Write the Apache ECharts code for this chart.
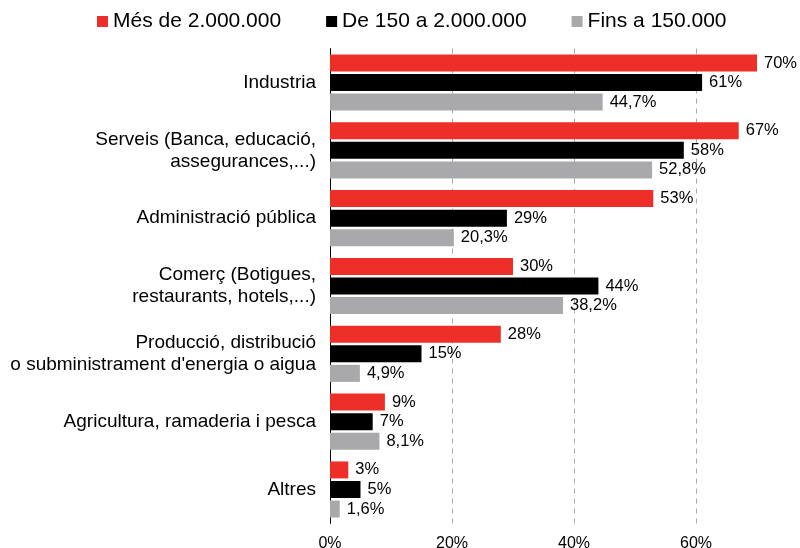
<!DOCTYPE html>
<html>
<head>
<meta charset="utf-8">
<title>Sectors</title>
<script src="https://cdn.jsdelivr.net/npm/echarts@6/dist/echarts.min.js"></script>
<style>
  html, body { margin: 0; padding: 0; background: #ffffff; }
  #chart { width: 800px; height: 548px; }
</style>
</head>
<body>
<div id="chart"></div>
<script>
// Sectors, top to bottom
const categories = [
  'Industria',
  'Serveis (Banca, educació,\nassegurances,...)',
  'Administració pública',
  'Comerç (Botigues,\nrestaurants, hotels,...)',
  'Producció, distribució\no subministrament d\'energia o aigua',
  'Agricultura, ramaderia i pesca',
  'Altres'
];

// Percentages per population size
const seriesNames = ['Més de 2.000.000', 'De 150 a 2.000.000', 'Fins a 150.000'];
const bigCities   = [70, 67, 53, 30, 28, 9, 3];
const midTowns    = [61, 58, 29, 44, 15, 7, 5];
const smallTowns  = [44.7, 52.8, 20.3, 38.2, 4.9, 8.1, 1.6];

// Value axis ticks
const axisMin = 0;
const axisMax = 80;
const axisStep = 20;

const colors = ['#ee2e29', '#000000', '#a9a9ab'];
const fontFamily = '"Liberation Sans", Arial, Helvetica, sans-serif';

function pct(v) {
  const s = Number.isInteger(v) ? String(v) : v.toFixed(1).replace('.', ',');
  return s + '%';
}

const chart = echarts.init(document.getElementById('chart'), null, { renderer: 'canvas' });

const seriesData = [bigCities, midTowns, smallTowns];

chart.setOption({
  animation: false,
  backgroundColor: '#ffffff',
  textStyle: { fontFamily: fontFamily },
  legend: {
    left: 97,
    top: 11,
    padding: 0,
    itemWidth: 11,
    itemHeight: 11,
    itemGap: 45,
    icon: 'rect',
    textStyle: { fontSize: 21, color: '#000', fontFamily: fontFamily },
    data: seriesNames
  },
  grid: {
    left: 330,
    top: 48.6,
    width: 488,
    bottom: 24.6,
    containLabel: false,
    outerBoundsMode: 'none'
  },
  xAxis: {
    type: 'value',
    min: axisMin,
    max: axisMax,
    interval: axisStep,
    axisLine: { show: false },
    axisTick: { show: false },
    axisLabel: {
      formatter: '{value}%',
      fontSize: 16,
      color: '#000',
      margin: 12,
      showMaxLabel: false,
      fontFamily: fontFamily
    },
    splitLine: {
      show: true,
      lineStyle: { color: '#aaaaaa', type: [5, 5], width: 1 }
    }
  },
  yAxis: {
    type: 'category',
    inverse: true,
    data: categories,
    axisLine: { show: true, lineStyle: { color: '#000', width: 1 } },
    axisTick: { show: false },
    axisLabel: {
      fontSize: 19,
      lineHeight: 22,
      color: '#000',
      margin: 14,
      align: 'right',
      fontFamily: fontFamily
    }
  },
  series: seriesNames.map((name, i) => ({
    name: name,
    type: 'bar',
    data: seriesData[i],
    barWidth: 17,
    barGap: '15%',
    itemStyle: { color: colors[i] },
    label: {
      show: true,
      position: 'right',
      distance: 7,
      fontSize: 16.5,
      color: '#000',
      fontFamily: fontFamily,
      formatter: p => pct(p.value)
    }
  }))
});
</script>
</body>
</html>
